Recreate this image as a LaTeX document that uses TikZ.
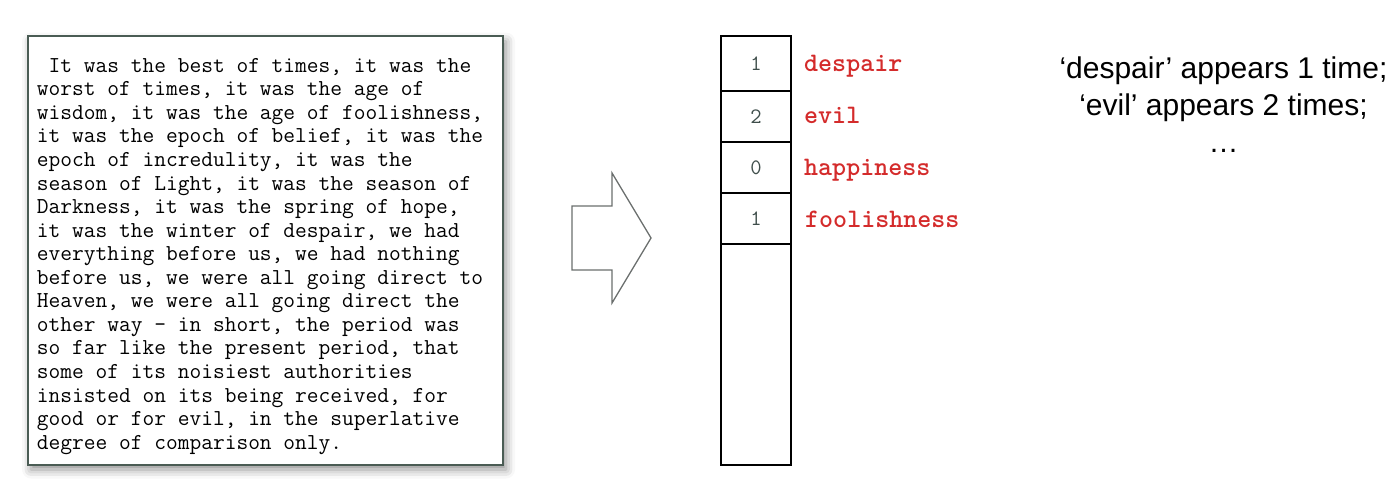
\documentclass[tikz,border=0pt]{standalone}
\usepackage{fontspec}
\usetikzlibrary{shadows.blur}
\newfontfamily\arial{Liberation Sans}
\definecolor{boxline}{HTML}{4A5C54}
\definecolor{wordred}{HTML}{D42B2B}
\definecolor{countgray}{HTML}{3F4E4B}
\definecolor{arrowgray}{HTML}{6A6E6D}
\begin{document}
\begin{tikzpicture}[x=1pt, y=-1pt,
  page/.style={draw=boxline, line width=2pt, fill=white, minimum width=475pt, minimum height=428pt,
    blur shadow={shadow xshift=3pt, shadow yshift=-5pt, shadow blur radius=9pt, shadow opacity=45}},
  passage/.style={align=left, inner sep=0pt, font=\ttfamily\fontsize{22.8}{23.56}\selectfont},
  cell/.style={draw, line width=1.5pt, minimum width=70pt, inner sep=0pt, text=countgray, font=\ttfamily\fontsize{22}{24}\selectfont},
  word/.style={anchor=base west, inner sep=0pt, text=wordred, font=\ttfamily\bfseries\fontsize{26.7}{28}\selectfont},
  note/.style={align=center, inner sep=0pt, font=\arial\fontsize{30}{36.8}\selectfont}]
  \useasboundingbox (0,0) rectangle (1400,489);
  % the text
  \node[page] (page) at (265.5,250.5) {};
  \node[passage, anchor=north west] (text) at (36.7,58) {%
\ It was the best of times, it was the\\
worst of times, it was the age of\\
wisdom, it was the age of foolishness,\\
it was the epoch of belief, it was the\\
epoch of incredulity, it was the\\
season of Light, it was the season of\\
Darkness, it was the spring of hope,\\
it was the winter of despair, we had\\
everything before us, we had nothing\\
before us, we were all going direct to\\
Heaven, we were all going direct the\\
other way — in short, the period was\\
so far like the present period, that\\
some of its noisiest authorities\\
insisted on its being received, for\\
good or for evil, in the superlative\\
degree of comparison only.};
  % the arrow
  \draw[arrowgray, line width=1.3pt] (572,206) -- (612,206) -- (612,173) -- (651,238)
    -- (612,303) -- (612,270) -- (572,270) -- cycle;
  % the counts
  \node[cell, minimum height=55pt] (c1) at (756,63.5) {1};
  \node[cell, minimum height=51pt] (c2) at (756,116.5) {2};
  \node[cell, minimum height=51pt] (c3) at (756,167.5) {0};
  \node[cell, minimum height=51pt] (c4) at (756,218.5) {1};
  \node[cell, minimum height=221pt] (c5) at (756,354.5) {};
  \node[word] (w1) at (804,72) {despair};
  \node[word] (w2) at (804,124) {evil};
  \node[word] (w3) at (804,176) {happiness};
  \node[word] (w4) at (805,228) {foolishness};
  % the reading
  \node[note, anchor=north] (read) at (1223.5,56.5) {‘despair’ appears 1 time;\\ ‘evil’ appears 2 times;\\ …};
\end{tikzpicture}
\end{document}
